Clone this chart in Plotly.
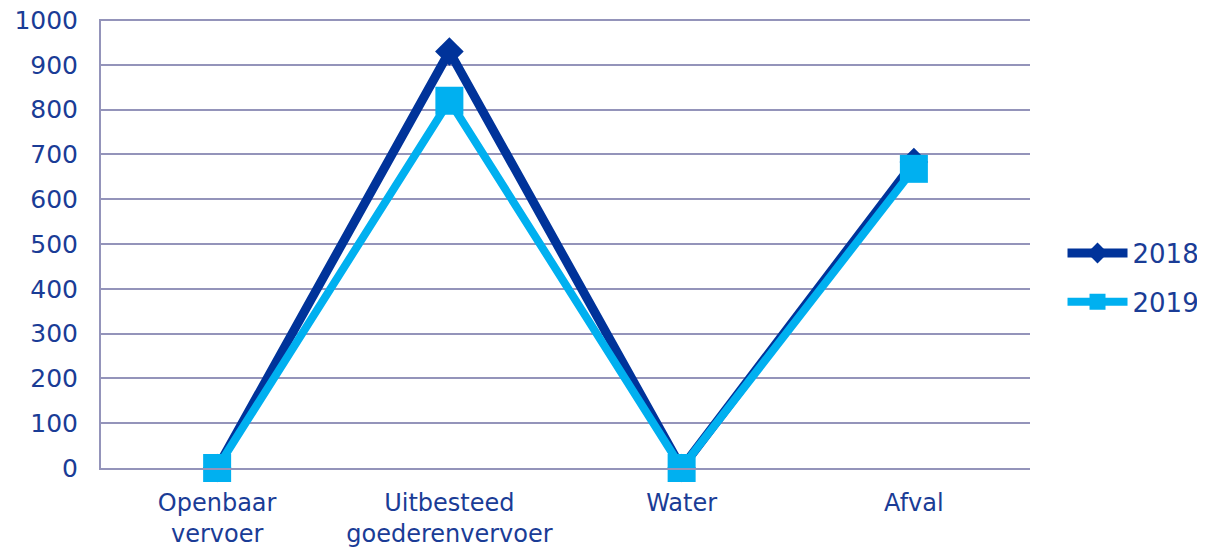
import plotly.graph_objects as go

categories = ["Openbaar<br>vervoer", "Uitbesteed<br>goederenvervoer", "Water", "Afval"]
values_2018 = [0, 930, 0, 683]
values_2019 = [0, 820, 0, 668]
y_ticks = list(range(0, 1001, 100))

text_color = "#1a3c96"
grid_color = "#9494ba"

fig = go.Figure()
fig.add_trace(go.Scatter(
    x=categories, y=values_2018, name="2018", mode="lines+markers",
    legendgroup="a",
    line=dict(color="#00339a", width=9),
    marker=dict(symbol="diamond", size=22, color="#00339a"),
    cliponaxis=False,
))
fig.add_trace(go.Scatter(
    x=categories, y=values_2019, name="2019", mode="lines+markers",
    legendgroup="b",
    line=dict(color="#00b0f0", width=8),
    marker=dict(symbol="square", size=28, color="#00b0f0"),
    cliponaxis=False,
))

fig.update_layout(
    width=1205, height=551,
    margin=dict(l=93, r=183, t=11, b=91, autoexpand=False),
    paper_bgcolor="white", plot_bgcolor="white",
    font=dict(family="DejaVu Sans", size=25, color=text_color),
    showlegend=True,
    legend=dict(x=1.035, y=0.424, yanchor="middle", xanchor="left",
                font=dict(size=26, color=text_color),
                itemwidth=60, tracegroupgap=12, bgcolor="rgba(0,0,0,0)"),
    xaxis=dict(type="category", range=[-0.5, 3.5], showgrid=False,
               showline=True, linecolor=grid_color, linewidth=2,
               ticks="", automargin=False, ticklabelstandoff=12,
               tickfont=dict(size=24, color=text_color)),
    yaxis=dict(range=[0, 1002.5], tickvals=y_ticks, showgrid=True,
               gridcolor=grid_color, gridwidth=2, showline=True,
               linecolor=grid_color, linewidth=2, ticks="",
               zeroline=False, ticklabelstandoff=16, automargin=False,
               ticklabeloverflow="allow",
               tickfont=dict(size=25, color=text_color)),
)

fig.write_html("out.html")
